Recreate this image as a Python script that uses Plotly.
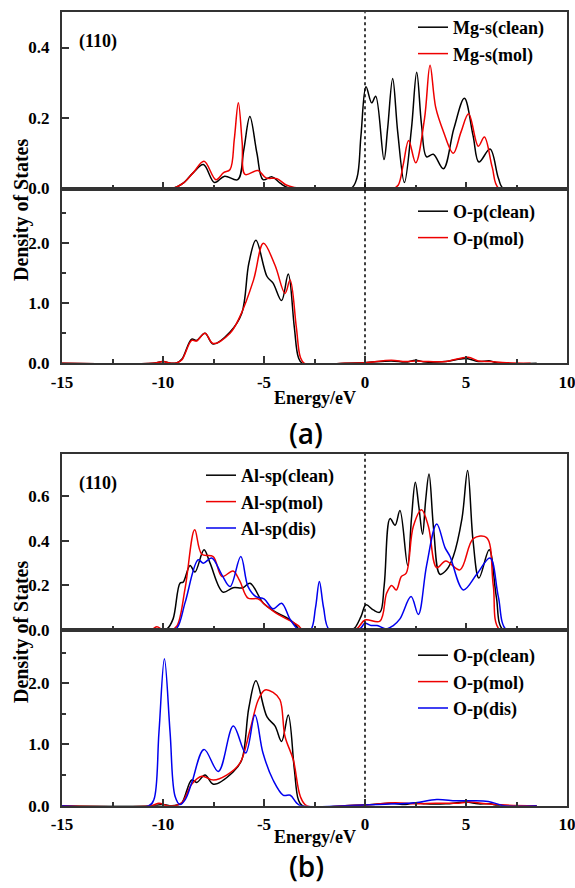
import plotly.graph_objects as go

W, H = 575, 888

# ---------------- data ----------------
# (a) upper: Mg-s
mg_clean_E = [-15, -9.6, -9.3, -9.0, -8.5, -8.0, -7.45, -6.95, -6.3, -6.0, -5.7, -5.35, -5.05, -4.6,
              -4.2, -3.7, -0.7, -0.4, -0.2, 0.05, 0.33, 0.53, 0.94, 1.12, 1.37, 1.62, 1.95, 2.3,
              2.56, 2.8, 3.05, 3.38, 3.88, 4.4, 4.92, 5.35, 5.64, 6.19, 6.6, 6.85, 8.5]
mg_clean_v = [0, 0, 0.005, 0.015, 0.045, 0.068, 0.017, 0.035, 0.025, 0.11, 0.204, 0.1, 0.025, 0.033,
              0.015, 0, 0, 0.03, 0.15, 0.289, 0.243, 0.262, 0.082, 0.17, 0.312, 0.16, 0.017, 0.17,
              0.33, 0.18, 0.09, 0.097, 0.056, 0.17, 0.256, 0.15, 0.075, 0.112, 0.03, 0, 0]
mg_mol_E = [-15, -9.6, -9.3, -9.0, -8.5, -7.97, -7.38, -7.0, -6.68, -6.47, -6.27, -6.08, -5.94, -5.3,
            -4.9, -4.36, -3.9, -3.5, -3.0, 1.4, 1.65, 1.9, 2.16, 2.51, 2.95, 3.22, 3.5, 3.88, 4.37,
            4.75, 5.13, 5.61, 5.91, 6.3, 6.63, 8.5]
mg_mol_v = [0, 0, 0.005, 0.015, 0.045, 0.077, 0.025, 0.045, 0.054, 0.14, 0.243, 0.13, 0.04, 0.051,
            0.03, 0.028, 0.01, 0.003, 0, 0, 0.01, 0.07, 0.136, 0.073, 0.2, 0.35, 0.23, 0.162, 0.1,
            0.16, 0.212, 0.12, 0.146, 0.06, 0, 0]

# (a) lower: O-p
opa_clean_E = [-15, -10.5, -10.0, -9.6, -9.3, -9.06, -8.58, -8.34, -7.92, -7.52, -6.68, -6.1, -5.75,
               -5.4, -4.85, -4.55, -4.13, -3.8, -3.5, -3.3, -3.1, -1, 0, 1.3, 2.0, 2.5, 3.0, 4.0,
               5.0, 5.6, 6.2, 6.6, 8.5]
opa_clean_v = [0, 0, 0.03, 0, 0.01, 0.07, 0.4, 0.38, 0.5, 0.32, 0.52, 0.83, 1.66,
               2.04, 1.44, 1.33, 1.04, 1.48, 0.6, 0.1, 0, 0, 0.01, 0.04, 0.02, 0.05, 0.02, 0.03,
               0.08, 0.03, 0.04, 0, 0]
opa_mol_E = [-15, -10.5, -10.0, -9.6, -9.3, -9.06, -8.58, -8.34, -7.92, -7.52, -6.68, -6.2, -5.52,
             -5.03, -4.46, -3.96, -3.71, -3.4, -3.2, -3.0, -1, 0, 1.3, 2.0, 2.5, 3.0, 4.0, 5.1,
             5.6, 6.2, 7.0, 8.2]
opa_mol_v = [0, 0, 0.03, 0, 0.01, 0.06, 0.38, 0.37, 0.5, 0.33, 0.5, 0.77, 1.38,
             1.99, 1.63, 1.16, 1.38, 0.6, 0.1, 0, 0, 0.01, 0.05, 0.03, 0.04, 0.03, 0.03, 0.1,
             0.04, 0.03, 0.01, 0]

# (b) upper: Al-sp
al_clean_E = [-15, -10.0, -9.8, -9.5, -9.16, -9.0, -8.66, -8.42, -7.97, -7.67, -7.03, -6.53, -6.04,
              -5.69, -5.03, -4.5, -3.88, -3.5, -3.2, -0.7, -0.5, -0.2, 0.05, 0.41, 0.74, 0.95, 1.24,
              1.49, 1.73, 2.11, 2.3, 2.49, 2.67, 2.85, 3.0, 3.17, 3.4, 3.71, 4.04, 4.37, 4.8, 5.08,
              5.35, 5.64, 6.15, 6.5, 6.85, 8.5]
al_clean_v = [0, 0, 0.005, 0.05, 0.21, 0.215, 0.29, 0.26, 0.36, 0.3, 0.17, 0.19, 0.19,
              0.21, 0.12, 0.085, 0.055, 0.03, 0, 0, 0.01, 0.06, 0.113, 0.09, 0.08, 0.2, 0.5,
              0.47, 0.536, 0.29, 0.5, 0.663, 0.55, 0.43, 0.58, 0.70, 0.45, 0.25, 0.27, 0.33, 0.5,
              0.716, 0.4, 0.233, 0.36, 0.15, 0, 0]
al_mol_E = [-15, -10.6, -10.3, -10.0, -9.6, -9.3, -8.9, -8.43, -8.08, -7.52, -7.08, -6.53, -6.2,
            -5.79, -5.3, -4.9, -4.3, -3.67, -3.3, -3.07, -0.6, -0.35, 0, 0.74, 1.07, 1.32, 1.55,
            1.8, 2.04, 2.39, 2.8, 3.14, 3.55, 4.0, 4.7, 5.36, 6.02, 6.35, 6.68, 8.5]
al_mol_v = [0, 0, 0.015, 0, 0, 0.02, 0.19, 0.45, 0.34, 0.33, 0.24, 0.265, 0.22,
            0.143, 0.14, 0.11, 0.07, 0.04, 0.02, 0, 0, 0.01, 0.045, 0.04, 0.165, 0.2, 0.18,
            0.24, 0.255, 0.465, 0.54, 0.465, 0.28, 0.31, 0.27, 0.41, 0.415, 0.2, 0, 0]
al_dis_E = [-15, -9.6, -9.3, -8.9, -8.26, -8.0, -7.59, -7.1, -6.68, -6.15, -5.79, -5.4, -5.0, -4.55,
            -4.13, -3.72, -3.4, -3.2, -2.7, -2.45, -2.26, -2.05, -1.75, -0.4, -0.2, 0.0, 0.3, 0.6,
            1.07, 1.4, 1.73, 2.28, 2.64, 3.05, 3.55, 3.96, 4.21, 4.87, 5.53, 6.19, 6.6, 7.01, 8.5]
al_dis_v = [0, 0, 0.01, 0.125, 0.315, 0.3, 0.323, 0.25, 0.195, 0.33, 0.195, 0.15, 0.14, 0.095,
            0.12, 0.05, 0.01, 0, 0, 0.1, 0.218, 0.1, 0, 0, 0.01, 0.03, 0.02, 0.02,
            0.005, 0.02, 0.05, 0.15, 0.07, 0.29, 0.476, 0.37, 0.33, 0.18, 0.25, 0.323, 0.15, 0, 0]

# (b) lower: O-p
opb_clean_E = [-15, -10.5, -10.0, -9.6, -9.3, -9.06, -8.58, -8.33, -7.92, -7.5, -6.53, -6.1, -5.75,
               -5.4, -4.85, -4.45, -4.13, -3.8, -3.5, -3.3, -3.1, -1, 0, 1.3, 2.0, 2.5, 3.0, 4.0,
               5.0, 5.6, 6.2, 6.6, 8.5]
opb_clean_v = [0, 0, 0.02, 0, 0.01, 0.05, 0.42, 0.38, 0.5, 0.35, 0.55, 0.75, 1.6,
               2.04, 1.45, 1.3, 1.05, 1.48, 0.6, 0.1, 0, 0, 0.01, 0.04, 0.02, 0.05, 0.03, 0.03,
               0.06, 0.03, 0.03, 0, 0]
opb_mol_E = [-15, -10.6, -10.2, -9.8, -9.4, -9.06, -8.58, -8.08, -7.5, -6.85, -6.2, -5.69, -5.28,
             -4.95, -4.55, -4.21, -3.96, -3.55, -3.2, -2.89, -1, 0, 1.5, 2.5, 3.5, 4.5, 5.2, 6.0,
             7.0, 8.5]
opb_mol_v = [0, 0, 0.04, 0, 0, 0.05, 0.35, 0.48, 0.42, 0.5, 0.69, 1.24, 1.73,
             1.89, 1.85, 1.73, 1.13, 0.75, 0.15, 0, 0, 0.01, 0.05, 0.03, 0.04, 0.04, 0.06, 0.03,
             0.01, 0]
opb_dis_E = [-15, -10.7, -10.45, -10.2, -9.93, -9.65, -9.4, -9.16, -8.9, -8.58, -7.97, -7.26, -6.52,
             -5.91, -5.45, -5.05, -4.55, -4.04, -3.7, -3.4, -3.2, -1, 0, 1.5, 2.5, 3.55, 4.5, 5.2,
             6.1, 6.88, 8.5]
opb_dis_v = [0, 0, 0.1, 1.2, 2.4, 1.2, 0.15, 0.02, 0.1, 0.37, 0.92, 0.56, 1.30,
             0.86, 1.48, 0.86, 0.42, 0.17, 0.17, 0.05, 0, 0, 0.01, 0.03, 0.05, 0.1, 0.08, 0.08,
             0.07, 0, 0]

FERMI = 0.0
X_RANGE = [-15, 10]
X_TICKS = [-15, -10, -5, 0, 5, 10]
X_TICKTEXT = ["-15", "-10", "-5", "0", "5", "10"]
X_MINOR = [-12.5, -7.5, -2.5, 2.5, 7.5]
Y_RANGES = [[0, 0.5], [0, 2.9], [0, 0.79], [0, 2.87]]

BLACK, RED, BLUE = "#000000", "#ee0000", "#0000ee"

# ---------------- figure ----------------
fig = go.Figure()

def py(px):
    return 1 - px / H

def add(E, v, name, color, ax, legend):
    fig.add_trace(go.Scatter(
        x=E, y=v, name=name, mode="lines",
        line=dict(color=color, width=1.5, shape="spline", smoothing=1.0),
        xaxis="x" + ("" if ax == 1 else str(ax)),
        yaxis="y" + ("" if ax == 1 else str(ax)),
        legend=legend,
    ))

add(mg_clean_E, mg_clean_v, "Mg-s(clean)", BLACK, 1, "legend")
add(mg_mol_E, mg_mol_v, "Mg-s(mol)", RED, 1, "legend")
add(opa_clean_E, opa_clean_v, "O-p(clean)", BLACK, 2, "legend2")
add(opa_mol_E, opa_mol_v, "O-p(mol)", RED, 2, "legend2")
add(al_clean_E, al_clean_v, "Al-sp(clean)", BLACK, 3, "legend3")
add(al_mol_E, al_mol_v, "Al-sp(mol)", RED, 3, "legend3")
add(al_dis_E, al_dis_v, "Al-sp(dis)", BLUE, 3, "legend3")
add(opb_clean_E, opb_clean_v, "O-p(clean)", BLACK, 4, "legend4")
add(opb_mol_E, opb_mol_v, "O-p(mol)", RED, 4, "legend4")
add(opb_dis_E, opb_dis_v, "O-p(dis)", BLUE, 4, "legend4")

SERIF = "Liberation Serif, Times New Roman, serif"
tickfont = dict(family=SERIF, size=17, color="#000", weight="bold")
LINEC = "#333333"

# panel pixel boundaries (top, bottom)
panels = [(12.3, 188.5), (188.5, 363.3), (454, 630), (630, 805.7)]
xdom = [62 / W, 567 / W]

layout = dict(
    width=W, height=H, margin=dict(l=0, r=0, t=0, b=0, autoexpand=False),
    paper_bgcolor="white", plot_bgcolor="white", showlegend=True,
)
for i, (t, b) in enumerate(panels, start=1):
    sfx = "" if i == 1 else str(i)
    lower = i in (2, 4)
    layout["xaxis" + sfx] = dict(
        domain=xdom, range=X_RANGE, anchor="y" + sfx, automargin=False,
        showline=True, mirror=True, linecolor=LINEC, linewidth=2,
        ticks="inside", ticklen=7, tickwidth=1.5, tickcolor=LINEC,
        tickvals=X_TICKS, ticktext=X_TICKTEXT, showticklabels=lower,
        ticklabeloverflow="allow",
        minor=dict(tickvals=X_MINOR, ticks="inside", ticklen=4,
                   tickwidth=1.5, tickcolor=LINEC),
        showgrid=False, zeroline=False, tickfont=tickfont, ticklabelstandoff=2,
    )
    yr = Y_RANGES[i - 1]
    if lower:
        yt = dict(tickvals=[0, 1, 2], ticktext=["0.0", "1.0", "2.0"],
                  minor=dict(tickvals=[0.5, 1.5, 2.5], ticks="inside", ticklen=4,
                             tickwidth=1.5, tickcolor=LINEC))
    elif i == 1:
        yt = dict(tickvals=[0, 0.2, 0.4], ticktext=["0.0", "0.2", "0.4"])
    else:
        yt = dict(tickvals=[0, 0.2, 0.4, 0.6], ticktext=["0.0", "0.2", "0.4", "0.6"])
    layout["yaxis" + sfx] = dict(
        domain=[py(b), py(t)], range=yr, anchor="x" + sfx, automargin=False,
        showline=True, mirror=True, linecolor=LINEC, linewidth=2,
        ticks="inside", ticklen=7, tickwidth=1.5, tickcolor=LINEC,
        showgrid=False, zeroline=False, tickfont=tickfont, ticklabelstandoff=7, **yt,
    )

legfont = dict(family=SERIF, size=18, color="#000", weight="bold")
def leg(xpx, ytop):
    return dict(x=xpx / W, xanchor="left", y=py(ytop), yanchor="top",
                bgcolor="rgba(0,0,0,0)", borderwidth=0, font=legfont,
                itemwidth=30, tracegroupgap=0)
layout["legend"] = leg(413, 9)
layout["legend2"] = leg(413, 193)
layout["legend3"] = leg(201, 457)
layout["legend4"] = leg(413, 637)

fig.update_layout(**layout)

# Fermi-level dotted lines spanning both panels of each figure
for xa, (ytop, ybot) in (("x", (12.3, 363.3)), ("x3", (454, 805.7))):
    fig.add_shape(type="line", xref=xa, yref="paper", x0=FERMI, x1=FERMI,
                  y0=py(ybot - 8), y1=py(ytop), line=dict(color="#000", width=1.5, dash="dot"))

ann = []
ann.append(dict(text="(110)", x=77 / W, y=py(42), xanchor="left", yanchor="middle"))
ann.append(dict(text="(110)", x=77 / W, y=py(483), xanchor="left", yanchor="middle"))
for yc in (398, 837):
    ann.append(dict(text="Energy/eV", x=314.5 / W, y=py(yc), xanchor="center", yanchor="middle"))
for yc in (210, 632):
    ann.append(dict(text="Density of States", x=21 / W, y=py(yc), xanchor="center",
                    yanchor="middle", textangle=-90, font=dict(family=SERIF, size=20,
                                                               color="#000", weight="bold")))
for txt, yc in (("(a)", 433), ("(b)", 866)):
    ann.append(dict(text=txt, x=306 / W, y=py(yc), xanchor="center", yanchor="middle",
                    font=dict(family="Open Sans, Liberation Sans, sans-serif", size=28,
                              color="#000", weight=600)))
for a in ann:
    a.setdefault("font", dict(family=SERIF, size=18, color="#000", weight="bold"))
    fig.add_annotation(xref="paper", yref="paper", showarrow=False, **a)

fig.write_html("out.html")
